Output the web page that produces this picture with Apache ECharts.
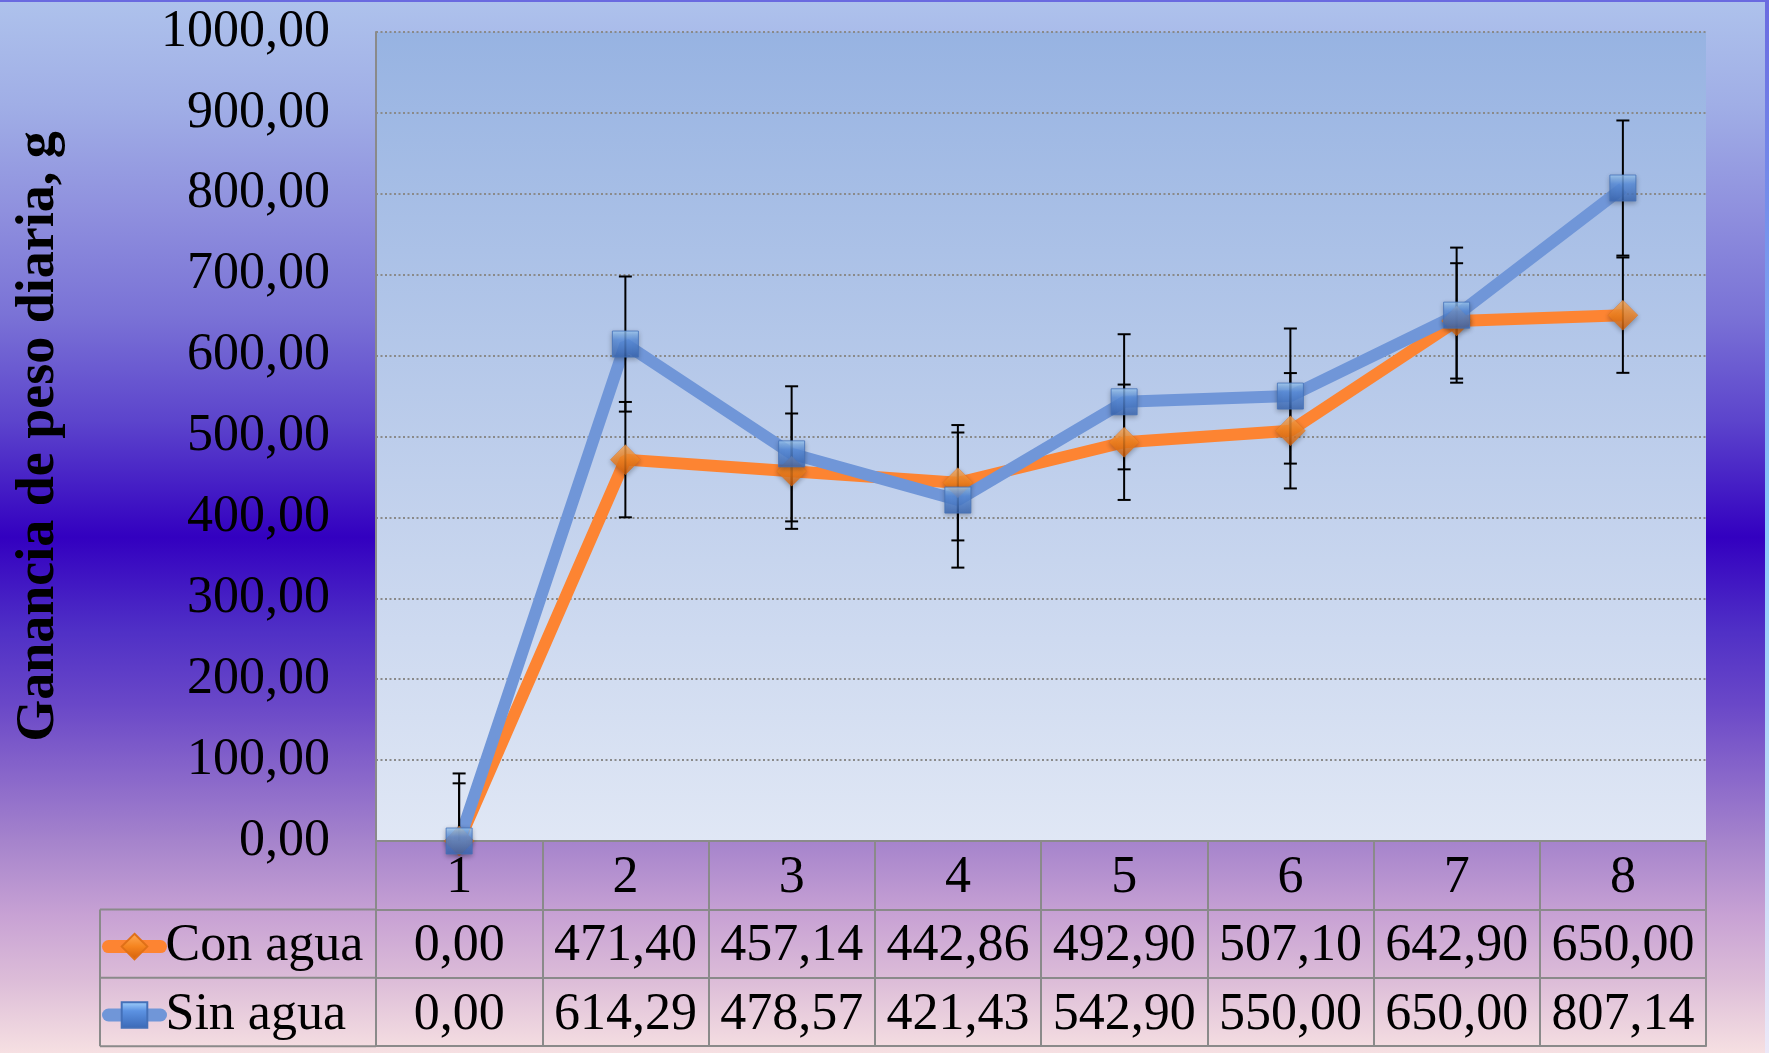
<!DOCTYPE html>
<html>
<head>
<meta charset="utf-8">
<title>Ganancia de peso diaria</title>
<script src="https://cdn.jsdelivr.net/npm/echarts@6/dist/echarts.min.js"></script>
<style>
  html, body { margin: 0; padding: 0; }
  #chart {
    width: 1769px;
    height: 1053px;
    background: linear-gradient(to bottom,
      #aec2ec 0%, #a0aee6 10%, #8f90de 20%, #7a72d6 30%, #5c44cc 40%,
      #3300c0 51%, #5030c6 60%, #6a48c8 67%, #a684cc 80%, #c8a2d4 87%,
      #dcbcd8 93%, #f6e0e2 100%);
  }
</style>
</head>
<body>
<div id="chart"></div>
<script>
// Weekly periods
const categories = ['1', '2', '3', '4', '5', '6', '7', '8'];
// Daily weight gain (g)
const conAgua = [0.00, 471.40, 457.14, 442.86, 492.90, 507.10, 642.90, 650.00];
const sinAgua = [0.00, 614.29, 478.57, 421.43, 542.90, 550.00, 650.00, 807.14];
// Error bar half-lengths (g)
const conAguaErr = [71.3, 71.3, 71.3, 71.3, 71.3, 71.3, 71.3, 71.3];
const sinAguaErr = [83.5, 83.5, 83.5, 83.5, 83.5, 83.5, 83.5, 83.5];
// Value axis ticks
const yMin = 0, yMax = 1000, yStep = 100;

const FONT = "'Liberation Serif', 'Times New Roman', serif";
const GRAY = '#8a8a8a';
const fmt = v => v.toFixed(2).replace('.', ',');

// plot box
const PLOT_LEFT = 376, PLOT_RIGHT = 1706, PLOT_TOP = 32, PLOT_BOTTOM = 841;
const ROW = 68.4;
const TABLE_LEFT = 100;

const orangeLine = '#fd8432';
const blueLine = '#7096d8';
const orangeMarker = {
  type: 'linear', x: 0, y: 0, x2: 0, y2: 1,
  colorStops: [{ offset: 0, color: '#ffac58' }, { offset: 0.5, color: '#f5841f' }, { offset: 1, color: '#d25e0a' }]
};
const blueMarker = {
  type: 'linear', x: 0, y: 0, x2: 0, y2: 1,
  colorStops: [{ offset: 0, color: '#a6d4fd' }, { offset: 0.35, color: '#5c92e2' }, { offset: 1, color: '#3a68b6' }]
};

function errorData(values, errs) {
  return values.map((v, i) => [i, v - errs[i], v + errs[i]]);
}

function errorBarItem(params, api) {
  const x = api.value(0);
  const top = api.coord([x, api.value(2)]);
  const bot = api.coord([x, api.value(1)]);
  const half = 6.5;
  const style = { stroke: '#000', lineWidth: 2 };
  return {
    type: 'group',
    children: [
      { type: 'line', shape: { x1: top[0], y1: top[1], x2: bot[0], y2: bot[1] }, style },
      { type: 'line', shape: { x1: top[0] - half, y1: top[1], x2: top[0] + half, y2: top[1] }, style },
      { type: 'line', shape: { x1: bot[0] - half, y1: bot[1], x2: bot[0] + half, y2: bot[1] }, style }
    ]
  };
}

const tableLabel = {
  fontFamily: FONT, fontSize: 52, color: '#000', lineHeight: 52,
  verticalAlign: 'middle', interval: 0, margin: ROW / 2 + 3
};

const chart = echarts.init(document.getElementById('chart'), null, { renderer: 'canvas' });

chart.setOption({
  backgroundColor: 'transparent',
  animation: false,
  grid: {
    left: PLOT_LEFT, right: 1769 - PLOT_RIGHT, top: PLOT_TOP, bottom: 1053 - PLOT_BOTTOM,
    show: true, borderWidth: 0,
    backgroundColor: {
      type: 'linear', x: 0, y: 0, x2: 0, y2: 1,
      colorStops: [{ offset: 0, color: '#97b3e2' }, { offset: 0.5, color: '#bccdeb' }, { offset: 1, color: '#e0e7f5' }]
    }
  },
  legend: {
    data: ['Con agua', 'Sin agua'],
    orient: 'vertical',
    left: 102, top: PLOT_BOTTOM + ROW + ROW / 2 - 26 + 3,
    padding: 0,
    itemGap: ROW - 52,
    itemWidth: 52, itemHeight: 32,
    selectedMode: false,
    lineStyle: { width: 13, cap: 'round' },
    textStyle: { fontFamily: FONT, fontSize: 52, lineHeight: 52, color: '#000', padding: [0, 0, 0, 0] }
  },
  xAxis: [
    {
      type: 'category', data: categories, position: 'bottom', boundaryGap: true,
      axisLine: { show: true, lineStyle: { color: GRAY, width: 2 } },
      axisTick: { show: true, length: ROW * 3, alignWithLabel: false, lineStyle: { color: GRAY, width: 2 } },
      axisLabel: tableLabel,
      splitLine: { show: false }, z: 1
    },
    {
      type: 'category', data: categories, position: 'bottom', offset: ROW, boundaryGap: true,
      axisLine: { show: true, lineStyle: { color: GRAY, width: 2 } },
      axisTick: { show: false },
      axisLabel: Object.assign({}, tableLabel, { formatter: (v, i) => fmt(conAgua[i]) }),
      splitLine: { show: false }
    },
    {
      type: 'category', data: categories, position: 'bottom', offset: ROW * 2, boundaryGap: true,
      axisLine: { show: true, lineStyle: { color: GRAY, width: 2 } },
      axisTick: { show: false },
      axisLabel: Object.assign({}, tableLabel, { formatter: (v, i) => fmt(sinAgua[i]) }),
      splitLine: { show: false }
    },
    {
      type: 'category', data: categories, position: 'bottom', offset: ROW * 3, boundaryGap: true,
      axisLine: { show: true, lineStyle: { color: GRAY, width: 2 } },
      axisTick: { show: false }, axisLabel: { show: false }, splitLine: { show: false }
    }
  ],
  yAxis: {
    type: 'value', min: yMin, max: yMax, interval: yStep,
    name: 'Ganancia de peso diaria, g',
    nameLocation: 'middle', nameGap: 310,
    nameTextStyle: { fontFamily: FONT, fontSize: 54, fontWeight: 'bold', color: '#000' },
    axisLine: { show: true, lineStyle: { color: GRAY, width: 2 } },
    axisTick: { show: false },
    axisLabel: { fontFamily: FONT, fontSize: 52, color: '#000', margin: 46, padding: [5, 0, 0, 0], formatter: v => fmt(v) },
    splitLine: { show: true, lineStyle: { color: GRAY, width: 2, type: [2, 2.5] } }
  },
  series: [
    {
      name: 'Con agua', type: 'line', data: conAgua, z: 2,
      symbol: 'diamond', symbolSize: 28, showSymbol: false,
      lineStyle: { color: orangeLine, width: 12 },
      itemStyle: { color: orangeMarker, borderColor: '#e07018', borderWidth: 0.5 }
    },
    {
      name: 'Sin agua', type: 'line', data: sinAgua, z: 2,
      symbol: 'rect', symbolSize: 25, showSymbol: false,
      lineStyle: { color: blueLine, width: 12 },
      itemStyle: { color: blueMarker, borderColor: '#4470b8', borderWidth: 1 }
    },
    {
      name: 'Con agua error', type: 'custom', renderItem: errorBarItem, clip: true, z: 3,
      data: errorData(conAgua, conAguaErr), encode: { x: 0, y: [1, 2] }, silent: true
    },
    {
      name: 'Sin agua error', type: 'custom', renderItem: errorBarItem, clip: true, z: 3,
      data: errorData(sinAgua, sinAguaErr), encode: { x: 0, y: [1, 2] }, silent: true
    },
    {
      name: 'Con agua marker', type: 'scatter', data: conAgua, z: 4,
      symbol: 'diamond', symbolSize: 30,
      itemStyle: {
        color: orangeMarker, borderColor: '#e07018', borderWidth: 0.5,
        shadowBlur: 5, shadowColor: 'rgba(0,0,0,0.35)', shadowOffsetY: 2
      }
    },
    {
      name: 'Sin agua marker', type: 'scatter', data: sinAgua, z: 5,
      symbol: 'rect', symbolSize: 26,
      itemStyle: {
        color: blueMarker, borderColor: '#4470b8', borderWidth: 1,
        shadowBlur: 5, shadowColor: 'rgba(0,0,0,0.35)', shadowOffsetY: 2
      }
    }
  ],
  graphic: [
    // legend column of the data table
    { type: 'line', shape: { x1: TABLE_LEFT, y1: PLOT_BOTTOM + ROW, x2: PLOT_LEFT, y2: PLOT_BOTTOM + ROW }, style: { stroke: GRAY, lineWidth: 2 } },
    { type: 'line', shape: { x1: TABLE_LEFT, y1: PLOT_BOTTOM + ROW * 2, x2: PLOT_LEFT, y2: PLOT_BOTTOM + ROW * 2 }, style: { stroke: GRAY, lineWidth: 2 } },
    { type: 'line', shape: { x1: TABLE_LEFT, y1: PLOT_BOTTOM + ROW * 3, x2: PLOT_LEFT, y2: PLOT_BOTTOM + ROW * 3 }, style: { stroke: GRAY, lineWidth: 2 } },
    { type: 'line', shape: { x1: TABLE_LEFT, y1: PLOT_BOTTOM + ROW, x2: TABLE_LEFT, y2: PLOT_BOTTOM + ROW * 3 }, style: { stroke: GRAY, lineWidth: 2 } },
    // outer frame edges
    { type: 'rect', shape: { x: 0, y: 0, width: 1769, height: 2 }, style: { fill: '#6a6ae0' } },
    {
      type: 'rect', shape: { x: 1765, y: 0, width: 4, height: 1053 },
      style: {
        fill: {
          type: 'linear', x: 0, y: 0, x2: 0, y2: 1,
          colorStops: [{ offset: 0, color: '#6a6ae0' }, { offset: 0.5, color: '#88c6fb' }, { offset: 1, color: '#ece8f8' }]
        }
      }
    }
  ]
});
</script>
</body>
</html>
